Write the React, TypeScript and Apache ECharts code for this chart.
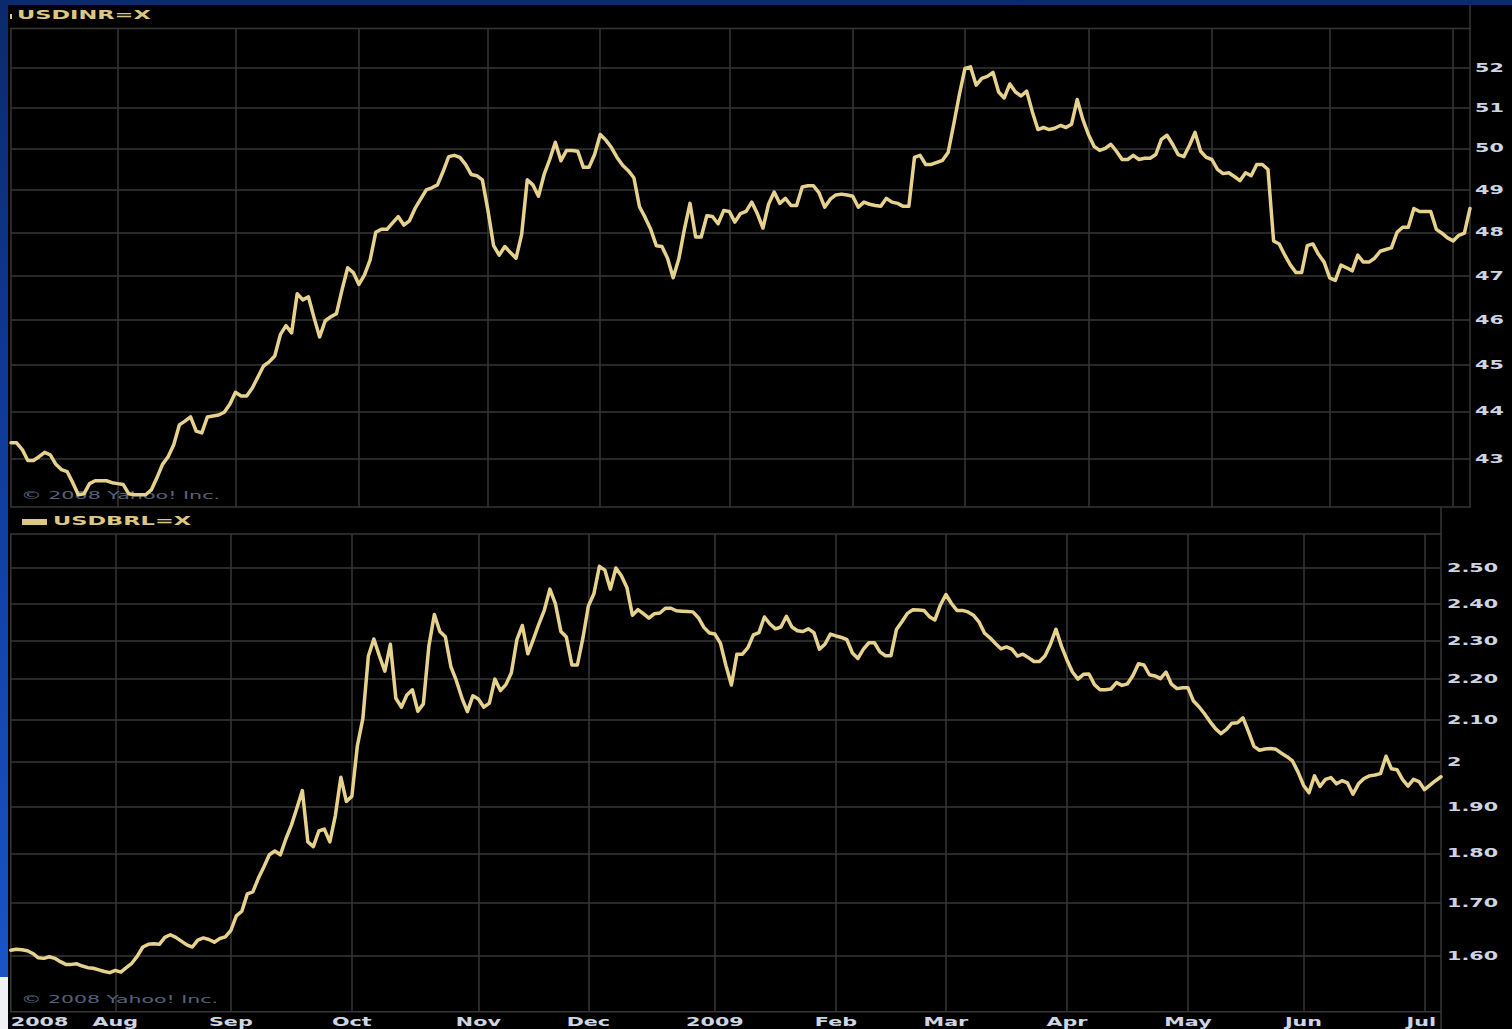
import React, { useEffect, useRef } from "react";
import * as echarts from "echarts";

// ---------------- DATA ----------------
// Weekday (trading-day) axis of the Yahoo chart
const START_DATE = "2008-07-07";
const END_DATE = "2009-07-06";

// USD/INR daily close (one value per weekday)
const usdInr = [
  43.33, 43.33, 43.19, 42.96, 42.96, 43.04, 43.13, 43.08, 42.88, 42.77,
  42.73, 42.5, 42.25, 42.27, 42.48, 42.54, 42.54, 42.54, 42.5, 42.48,
  42.46, 42.27, 42.25, 42.25, 42.25, 42.35, 42.6, 42.88, 43.04, 43.29,
  43.71, 43.79, 43.88, 43.58, 43.54, 43.88, 43.9, 43.92, 43.98, 44.15,
  44.41, 44.33, 44.33, 44.5, 44.74, 44.98, 45.07, 45.2, 45.67, 45.87,
  45.71, 46.59, 46.45, 46.52, 46.05, 45.62, 45.98, 46.07, 46.14, 46.68,
  47.18, 47.07, 46.8, 47.02, 47.36, 48.0, 48.07, 48.07, 48.22, 48.37,
  48.17, 48.27, 48.56, 48.78, 49.0, 49.05, 49.12, 49.44, 49.8, 49.83,
  49.78, 49.61, 49.37, 49.34, 49.24, 48.51, 47.69, 47.47, 47.67, 47.53,
  47.4, 47.95, 49.24, 49.12, 48.85, 49.37, 49.73, 50.15, 49.7, 49.95,
  49.95, 49.93, 49.54, 49.54, 49.85, 50.34, 50.2, 50.02, 49.78, 49.59,
  49.46, 49.29, 48.6, 48.35, 48.07, 47.69, 47.67, 47.4, 46.95, 47.38,
  48.07, 48.68, 47.89, 47.89, 48.39, 48.37, 48.2, 48.51, 48.49, 48.24,
  48.44, 48.49, 48.71, 48.44, 48.1, 48.66, 48.95, 48.68, 48.8, 48.63,
  48.63, 49.07, 49.1, 49.1, 48.93, 48.59, 48.78, 48.88, 48.9, 48.88,
  48.85, 48.59, 48.71, 48.66, 48.63, 48.61, 48.8, 48.71, 48.68, 48.61,
  48.61, 49.78, 49.83, 49.61, 49.61, 49.66, 49.71, 49.9, 50.59, 51.32,
  51.98, 52.02, 51.56, 51.73, 51.78, 51.88, 51.39, 51.24, 51.59, 51.39,
  51.29, 51.41, 50.9, 50.46, 50.51, 50.46, 50.49, 50.56, 50.51, 50.59,
  51.2, 50.71, 50.34, 50.05, 49.95, 50.0, 50.1, 49.93, 49.73, 49.73,
  49.83, 49.73, 49.76, 49.76, 49.85, 50.22, 50.32, 50.1, 49.85, 49.8,
  50.07, 50.39, 49.93, 49.78, 49.73, 49.49, 49.39, 49.41, 49.32, 49.22,
  49.41, 49.34, 49.61, 49.61, 49.49, 47.8, 47.73, 47.47, 47.24, 47.07,
  47.07, 47.69, 47.73, 47.49, 47.31, 46.95, 46.89, 47.24, 47.18, 47.11,
  47.47, 47.31, 47.31, 47.4, 47.56, 47.6, 47.64, 48.0, 48.12, 48.12,
  48.56, 48.49, 48.49, 48.49, 48.07, 47.98, 47.87, 47.8, 47.93, 47.98,
  48.56,
];

// USD/BRL daily close (one value per weekday)
const usdBrl = [
  1.61, 1.612, 1.611, 1.609, 1.604, 1.596, 1.595, 1.598, 1.595, 1.589,
  1.584, 1.584, 1.585, 1.581, 1.578, 1.577, 1.574, 1.571, 1.569, 1.573,
  1.57, 1.578, 1.586, 1.599, 1.616, 1.621, 1.622, 1.621, 1.634, 1.639,
  1.634, 1.627, 1.62, 1.616, 1.629, 1.633, 1.63, 1.625, 1.632, 1.635,
  1.647, 1.675, 1.684, 1.718, 1.722, 1.749, 1.772, 1.797, 1.805, 1.797,
  1.83, 1.859, 1.896, 1.935, 1.824, 1.814, 1.847, 1.851, 1.824, 1.88,
  1.965, 1.911, 1.922, 2.037, 2.102, 2.259, 2.304, 2.26, 2.22, 2.29,
  2.152, 2.13, 2.16, 2.173, 2.12, 2.138, 2.285, 2.37, 2.324, 2.31,
  2.232, 2.196, 2.153, 2.119, 2.158, 2.15, 2.13, 2.14, 2.2, 2.171,
  2.186, 2.216, 2.302, 2.34, 2.265, 2.303, 2.344, 2.382, 2.44, 2.4,
  2.324, 2.309, 2.236, 2.236, 2.306, 2.393, 2.427, 2.505, 2.494, 2.44,
  2.5, 2.478, 2.445, 2.368, 2.383, 2.372, 2.36, 2.372, 2.374, 2.387,
  2.387, 2.38, 2.379, 2.378, 2.377, 2.361, 2.335, 2.32, 2.317, 2.293,
  2.235, 2.185, 2.264, 2.264, 2.281, 2.315, 2.321, 2.363, 2.344, 2.331,
  2.336, 2.365, 2.336, 2.326, 2.324, 2.331, 2.321, 2.277, 2.29, 2.317,
  2.312, 2.308, 2.302, 2.267, 2.253, 2.277, 2.294, 2.294, 2.27, 2.26,
  2.26, 2.329, 2.35, 2.373, 2.383, 2.382, 2.381, 2.364, 2.355, 2.396,
  2.425, 2.4, 2.381, 2.381, 2.377, 2.368, 2.35, 2.32, 2.307, 2.292,
  2.278, 2.283, 2.277, 2.259, 2.264, 2.255, 2.245, 2.245, 2.259, 2.29,
  2.33, 2.285, 2.249, 2.218, 2.2, 2.212, 2.213, 2.186, 2.173, 2.173,
  2.175, 2.191, 2.184, 2.188, 2.209, 2.239, 2.236, 2.211, 2.208, 2.201,
  2.218, 2.187, 2.176, 2.178, 2.178, 2.145, 2.131, 2.114, 2.095, 2.078,
  2.066, 2.076, 2.091, 2.092, 2.104, 2.071, 2.036, 2.027, 2.03, 2.031,
  2.029, 2.02, 2.012, 2.002, 1.977, 1.947, 1.93, 1.968, 1.944, 1.96,
  1.964, 1.95, 1.957, 1.952, 1.927, 1.95, 1.962, 1.968, 1.97, 1.973,
  2.013, 1.984, 1.982, 1.96, 1.945, 1.96, 1.955, 1.937, 1.947, 1.957,
  1.966,
];

const inrRange = [42, 53];
const inrTicks = [43, 44, 45, 46, 47, 48, 49, 50, 51, 52];
const inrTickLabels = ["43", "44", "45", "46", "47", "48", "49", "50", "51", "52"];

const brlRange = [1.5, 2.6];
const brlTicks = [1.6, 1.7, 1.8, 1.9, 2.0, 2.1, 2.2, 2.3, 2.4, 2.5];
const brlTickLabels = ["1.60", "1.70", "1.80", "1.90", "2", "2.10", "2.20", "2.30", "2.40", "2.50"];

const monthTickDates = [
  "2008-07-07", "2008-08-01", "2008-09-01", "2008-10-01", "2008-11-03", "2008-12-01",
  "2009-01-01", "2009-02-02", "2009-03-02", "2009-04-01", "2009-05-01", "2009-06-01", "2009-07-01",
];
const monthTickLabels = ["2008", "Aug", "Sep", "Oct", "Nov", "Dec", "2009", "Feb", "Mar", "Apr", "May", "Jun", "Jul"];

const inrTitle = "USDINR=X";
const brlTitle = "USDBRL=X";
const copyright = "© 2008 Yahoo! Inc.";

// ---------------- STYLE ----------------
const LINE_COLOR = "#e6d28c";
const GRID_COLOR = "#363636";
const LABEL_COLOR = "#cdd5e5";
const TITLE_COLOR = "#dcc883";
const WATERMARK_COLOR = "#56627d";
const FONT = '"DejaVu Sans", Verdana, sans-serif';

const TOP_GRID = { left: 11, top: 28.5, width: 1459, height: 478.5 };
const BOTTOM_GRID = { left: 10.8, top: 534, width: 1430.2, height: 477.7 };

function weekdayDates(start: string, end: string): string[] {
  const out: string[] = [];
  const d = new Date(start + "T00:00:00Z");
  const last = new Date(end + "T00:00:00Z");
  while (d.getTime() <= last.getTime()) {
    const wd = d.getUTCDay();
    if (wd !== 0 && wd !== 6) out.push(d.toISOString().slice(0, 10));
    d.setUTCDate(d.getUTCDate() + 1);
  }
  return out;
}

function textEl(
  text: string,
  x: number,
  y: number,
  align: string,
  o: { fill: string; fontSize: number; bold?: boolean; scaleX?: number; z?: number }
) {
  return {
    type: "text",
    x,
    y,
    scaleX: o.scaleX ?? 1.8,
    silent: true,
    z: o.z ?? 10,
    style: {
      text,
      fill: o.fill,
      fontSize: o.fontSize,
      fontWeight: o.bold === false ? "normal" : "bold",
      fontFamily: FONT,
      textAlign: align,
      textVerticalAlign: "middle",
      align,
      verticalAlign: "middle",
    },
  };
}

function lineEl(x1: number, y1: number, x2: number, y2: number) {
  return {
    type: "line",
    silent: true,
    z: 1,
    shape: { x1, y1, x2, y2 },
    style: { stroke: GRID_COLOR, lineWidth: 1.5 },
  };
}

export default function App() {
  const ref = useRef<HTMLDivElement>(null);

  useEffect(() => {
    if (!ref.current) return;
    const chart = echarts.init(ref.current, null, { renderer: "svg" });
    const days = weekdayDates(START_DATE, END_DATE);
    const ln = Math.log;
    const isMonthStart = (i: number) => i > 0 && days[i].slice(0, 7) !== days[i - 1].slice(0, 7);

    const xAxis = (gridIndex: number) => ({
      type: "category",
      gridIndex,
      data: days,
      boundaryGap: false,
      axisLine: { show: false },
      axisTick: { show: false },
      axisLabel: { show: false },
      splitLine: {
        show: true,
        interval: (i: number) => isMonthStart(i),
        lineStyle: { color: GRID_COLOR, width: 1.5 },
      },
    });
    const yAxis = (gridIndex: number, range: number[], ticks: number[]) => ({
      type: "value",
      gridIndex,
      position: "right",
      min: ln(range[0]),
      max: ln(range[1]),
      axisLine: { show: false },
      axisTick: { show: false, customValues: ticks.map(ln) },
      axisLabel: { show: false, customValues: ticks.map(ln) },
      splitLine: { show: true, lineStyle: { color: GRID_COLOR, width: 1.5 } },
    });

    const lineSeries = (idx: number, values: number[]) => ({
      type: "line",
      xAxisIndex: idx,
      yAxisIndex: idx,
      data: values.map(ln),
      showSymbol: false,
      symbol: "none",
      silent: true,
      z: 3,
      lineStyle: { color: LINE_COLOR, width: 3.5, join: "round", cap: "round" },
      emphasis: { disabled: true },
    });

    chart.setOption({
      animation: false,
      backgroundColor: "transparent",
      tooltip: { show: false },
      grid: [
        { ...TOP_GRID, show: true, borderColor: GRID_COLOR, borderWidth: 1.5, backgroundColor: "transparent" },
        { ...BOTTOM_GRID, show: true, borderColor: GRID_COLOR, borderWidth: 1.5, backgroundColor: "transparent" },
      ],
      xAxis: [xAxis(0), xAxis(1)],
      yAxis: [yAxis(0, inrRange, inrTicks), yAxis(1, brlRange, brlTicks)],
      series: [lineSeries(0, usdInr), lineSeries(1, usdBrl)],
    });

    const topRight = TOP_GRID.left + TOP_GRID.width;
    const botRight = BOTTOM_GRID.left + BOTTOM_GRID.width;
    const botBottom = BOTTOM_GRID.top + BOTTOM_GRID.height;

    const g: any[] = [
      // frame extensions through the title rows
      lineEl(topRight, 5, topRight, TOP_GRID.top),
      lineEl(botRight, TOP_GRID.top + TOP_GRID.height, botRight, BOTTOM_GRID.top),
      lineEl(botRight, botBottom, botRight, 1029),
      // legend swatches
      { type: "rect", silent: true, z: 10, shape: { x: 10, y: 14, width: 2, height: 5 }, style: { fill: TITLE_COLOR } },
      { type: "rect", silent: true, z: 10, shape: { x: 22, y: 519, width: 25, height: 6 }, style: { fill: TITLE_COLOR } },
      textEl(inrTitle, 17, 14.5, "left", { fill: TITLE_COLOR, fontSize: 12.5, scaleX: 1.8 }),
      textEl(brlTitle, 53, 521, "left", { fill: TITLE_COLOR, fontSize: 12.5, scaleX: 1.8 }),
      textEl(copyright, 21, 495.5, "left", { fill: WATERMARK_COLOR, fontSize: 11, bold: false, scaleX: 1.88, z: 1 }),
      textEl(copyright, 21, 999.5, "left", { fill: WATERMARK_COLOR, fontSize: 11, bold: false, scaleX: 1.86, z: 1 }),
    ];

    inrTicks.forEach((v, k) => {
      const y = chart.convertToPixel({ yAxisIndex: 0 }, ln(v)) as number;
      g.push(textEl(inrTickLabels[k], topRight + 5, y, "left", { fill: LABEL_COLOR, fontSize: 11.5 }));
    });
    brlTicks.forEach((v, k) => {
      const y = chart.convertToPixel({ yAxisIndex: 1 }, ln(v)) as number;
      g.push(textEl(brlTickLabels[k], botRight + 6, y, "left", { fill: LABEL_COLOR, fontSize: 11.5 }));
    });
    monthTickDates.forEach((d, k) => {
      const idx = days.indexOf(d);
      const x = chart.convertToPixel({ xAxisIndex: 1 }, idx) as number;
      const last = k === monthTickDates.length - 1;
      const align = k === 0 ? "left" : last ? "right" : "center";
      const xx = k === 0 ? x : last ? botRight - 5 : x;
      g.push(textEl(monthTickLabels[k], xx, 1021.5, align, { fill: LABEL_COLOR, fontSize: 11.5 }));
    });

    chart.setOption({ graphic: g });

    return () => chart.dispose();
  }, []);

  return (
    <div
      style={{
        position: "fixed",
        left: 0,
        top: 0,
        width: 1512,
        height: 1029,
        overflow: "hidden",
        background: "linear-gradient(to bottom, #0a2a6c 0%, #0f3a98 40%, #1a56cc 100%)",
      }}
    >
      <div style={{ position: "absolute", left: 0, top: 977, width: 9, height: 52, background: "#f0f1f4" }} />
      <div style={{ position: "absolute", left: 8, top: 5, width: 1504, height: 1024, background: "#000" }} />
      <div ref={ref} style={{ position: "absolute", left: 0, top: 0, width: 1512, height: 1029 }} />
    </div>
  );
}
